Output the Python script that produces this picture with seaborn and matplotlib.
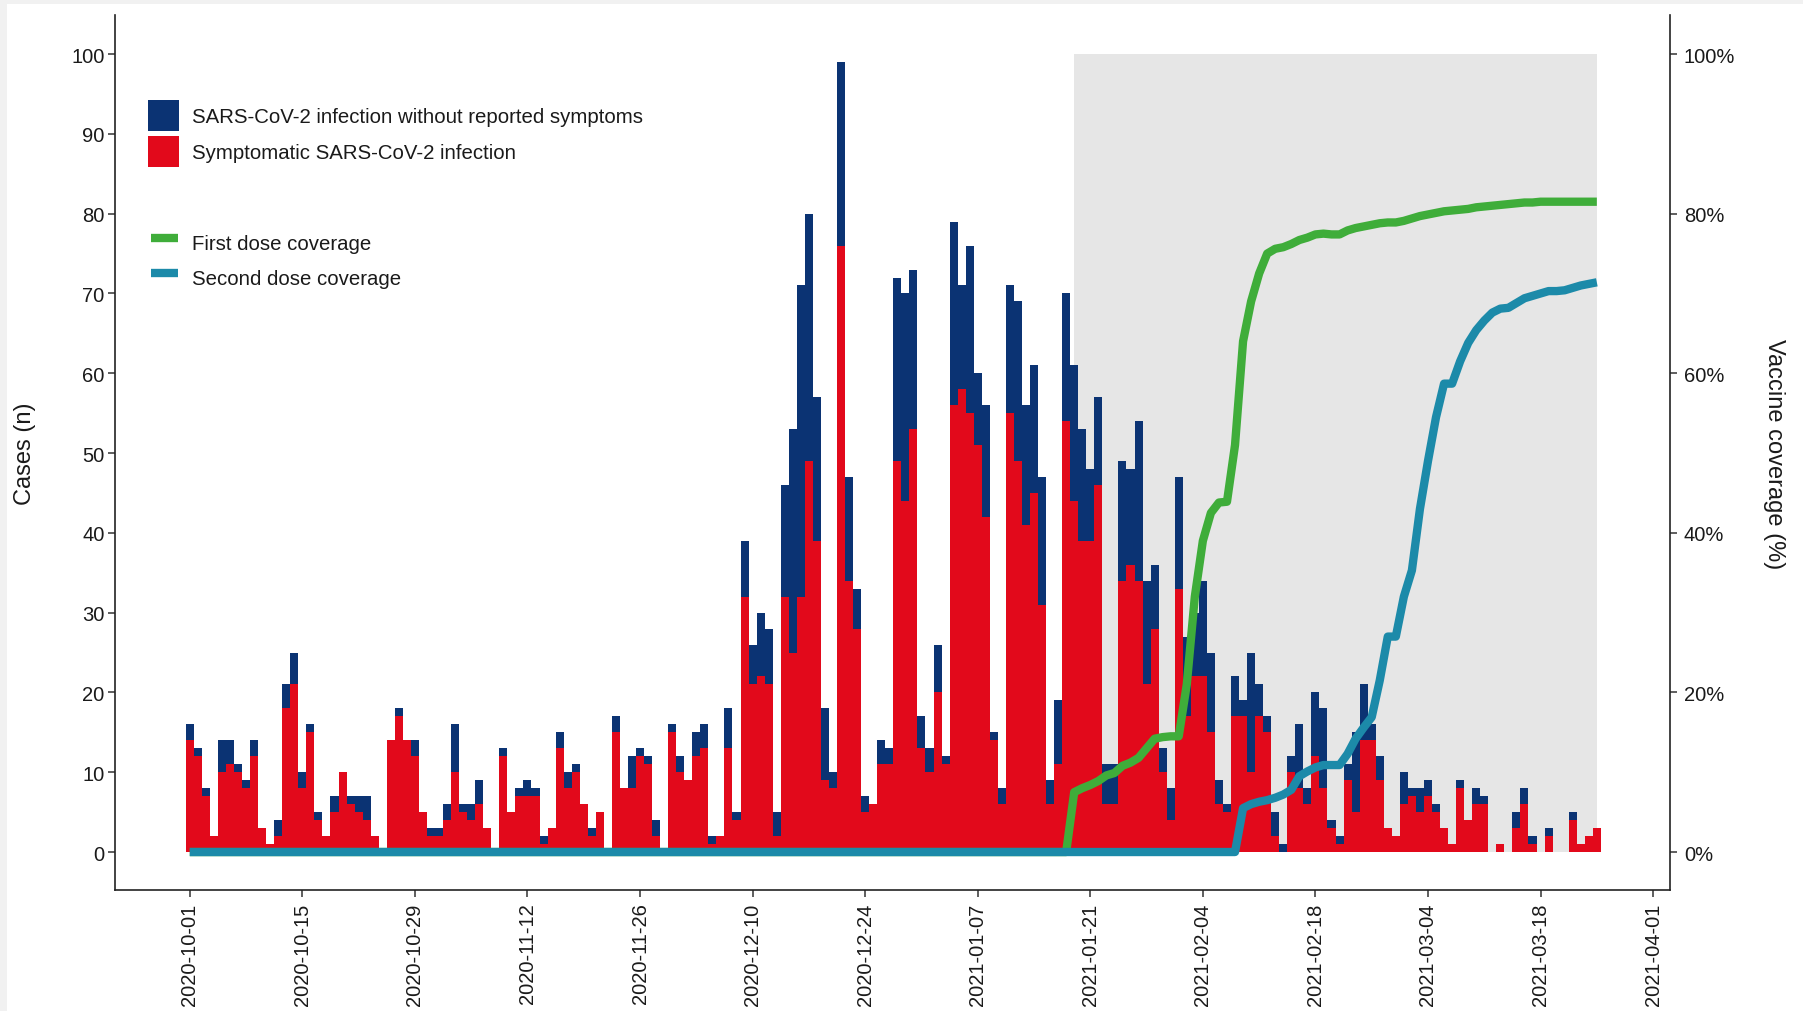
import numpy as np
import pandas as pd
import matplotlib
matplotlib.use("Agg")
import matplotlib.pyplot as plt
import matplotlib.dates as mdates
from matplotlib.patches import Patch, Rectangle
from matplotlib.lines import Line2D
import seaborn as sns

# ---- data -------------------------------------------------------------
first_day = "2020-10-01"

# daily cases (all infections) from 2020-10-01 to 2021-03-25
total_cases = [
    16, 13, 8, 2, 14, 14, 11, 9, 14, 3,
    1, 4, 21, 25, 10, 16, 5, 2, 7, 10,
    7, 7, 7, 2, 0, 14, 18, 14, 14, 5,
    3, 3, 6, 16, 6, 6, 9, 3, 0, 13,
    5, 8, 9, 8, 2, 3, 15, 10, 11, 6,
    3, 5, 0, 17, 8, 12, 13, 12, 4, 0,
    16, 12, 9, 15, 16, 2, 2, 18, 5, 39,
    26, 30, 28, 5, 46, 53, 71, 80, 57, 18,
    10, 99, 47, 33, 7, 6, 14, 13, 72, 70,
    73, 17, 13, 26, 12, 79, 71, 76, 60, 56,
    15, 8, 71, 69, 56, 61, 47, 9, 19, 70,
    61, 53, 48, 57, 11, 11, 49, 48, 54, 34,
    36, 13, 8, 47, 27, 30, 34, 25, 9, 6,
    22, 19, 25, 21, 17, 5, 1, 12, 16, 8,
    20, 18, 4, 2, 11, 15, 21, 16, 12, 3,
    2, 10, 8, 8, 9, 6, 3, 1, 9, 4,
    8, 7, 0, 1, 0, 5, 8, 2, 0, 3,
    0, 0, 5, 1, 2, 3,
]

# daily symptomatic cases over the same days
symptomatic_cases = [
    14, 12, 7, 2, 10, 11, 10, 8, 12, 3,
    1, 2, 18, 21, 8, 15, 4, 2, 5, 10,
    6, 5, 4, 2, 0, 14, 17, 14, 12, 5,
    2, 2, 4, 10, 5, 4, 6, 3, 0, 12,
    5, 7, 7, 7, 1, 3, 13, 8, 10, 6,
    2, 5, 0, 15, 8, 8, 12, 11, 2, 0,
    15, 10, 9, 12, 13, 1, 2, 13, 4, 32,
    21, 22, 21, 2, 32, 25, 32, 49, 39, 9,
    8, 76, 34, 28, 5, 6, 11, 11, 49, 44,
    53, 13, 10, 20, 11, 56, 58, 55, 51, 42,
    14, 6, 55, 49, 41, 45, 31, 6, 11, 54,
    44, 39, 39, 46, 6, 6, 34, 36, 34, 21,
    28, 10, 4, 33, 17, 22, 22, 15, 6, 5,
    17, 17, 10, 17, 15, 2, 0, 10, 8, 6,
    12, 8, 3, 1, 9, 5, 14, 14, 9, 3,
    2, 6, 7, 5, 7, 5, 3, 1, 8, 4,
    6, 6, 0, 1, 0, 3, 6, 1, 0, 2,
    0, 0, 4, 1, 2, 3,
]

# vaccine coverage (%) from 2021-01-18 to 2021-03-25 (zero before)
coverage_first_day = "2021-01-18"
first_dose = [
    0.0, 7.5, 8.0, 8.4, 8.9, 9.6, 9.9, 10.8, 11.2, 11.8,
    13.0, 14.2, 14.4, 14.5, 14.5, 21.0, 32.0, 39.0, 42.5, 43.8,
    43.9, 51.0, 64.0, 69.0, 72.5, 75.0, 75.6, 75.8, 76.2, 76.7,
    77.0, 77.4, 77.5, 77.4, 77.4, 77.9, 78.2, 78.4, 78.6, 78.8,
    78.9, 78.9, 79.1, 79.4, 79.7, 79.9, 80.1, 80.3, 80.4, 80.5,
    80.6, 80.8, 80.9, 81.0, 81.1, 81.2, 81.3, 81.4, 81.4, 81.5,
    81.5, 81.5, 81.5, 81.5, 81.5, 81.5, 81.5,
]
second_dose = [
    0.0, 0.0, 0.0, 0.0, 0.0, 0.0, 0.0, 0.0, 0.0, 0.0,
    0.0, 0.0, 0.0, 0.0, 0.0, 0.0, 0.0, 0.0, 0.0, 0.0,
    0.0, 0.0, 5.5, 6.0, 6.3, 6.5, 6.8, 7.2, 7.8, 9.5,
    10.1, 10.6, 10.9, 10.9, 10.9, 12.3, 14.2, 15.6, 16.9, 21.5,
    27.0, 27.0, 32.0, 35.3, 43.0, 49.0, 54.5, 58.7, 58.7, 61.5,
    63.8, 65.4, 66.6, 67.6, 68.1, 68.2, 68.8, 69.4, 69.7, 70.0,
    70.3, 70.3, 70.4, 70.7, 71.0, 71.2, 71.4,
]

# vaccination period shown as a grey band
band_start = "2021-01-19"
band_end = "2021-03-25"

date_ticks = [
    "2020-10-01", "2020-10-15", "2020-10-29", "2020-11-12", "2020-11-26",
    "2020-12-10", "2020-12-24", "2021-01-07", "2021-01-21", "2021-02-04",
    "2021-02-18", "2021-03-04", "2021-03-18", "2021-04-01",
]
case_ticks = list(range(0, 101, 10))
coverage_ticks = [0, 20, 40, 60, 80, 100]

ASYM = "SARS-CoV-2 infection without reported symptoms"
SYMP = "Symptomatic SARS-CoV-2 infection"
FIRST = "First dose coverage"
SECOND = "Second dose coverage"

# ---- style ------------------------------------------------------------
NAVY = "#0b3373"
RED = "#e2091b"
GREEN = "#3fad3a"
TEAL = "#1c8aa9"
BAND = "#e6e6e6"
INK = "#1a1a1a"

sns.set_theme(style="ticks")
plt.rcParams["font.family"] = ["Liberation Sans", "DejaVu Sans"]

W_PX, H_PX = 1803, 1012
fig = plt.figure(figsize=(W_PX / 100, H_PX / 100), dpi=100, facecolor="#f1f1f1")
fig.add_artist(Rectangle((7 / W_PX, 0), 1, 1 - 5 / H_PX, transform=fig.transFigure,
                         facecolor="white", edgecolor="none", zorder=-10))

left, right, bottom, top = 115, 1670, 891, 16
ax = fig.add_axes([left / W_PX, 1 - bottom / H_PX,
                   (right - left) / W_PX, (bottom - top) / H_PX])

# ---- bars -------------------------------------------------------------
days = pd.date_range(first_day, periods=len(total_cases), freq="D")
xd = mdates.date2num(days)
tot = np.array(total_cases)
sym = np.array(symptomatic_cases)
asym = tot - sym
n = len(xd)
cases = pd.DataFrame({
    "day": np.concatenate([xd, xd]),
    "n": np.concatenate([asym, sym]),
    "type": [ASYM] * n + [SYMP] * n,
})

x0 = mdates.date2num(pd.Timestamp(first_day))
ax.fill_between([mdates.date2num(pd.Timestamp(band_start)),
                 mdates.date2num(pd.Timestamp(band_end))], 0, 100,
                color=BAND, linewidth=0, zorder=0.5)

sns.histplot(data=cases, x="day", weights="n", hue="type",
             hue_order=[ASYM, SYMP], multiple="stack", discrete=True,
             palette={ASYM: NAVY, SYMP: RED}, alpha=1, linewidth=0,
             antialiased=False, legend=False, ax=ax, zorder=1)

# ---- coverage lines ---------------------------------------------------
ax2 = ax.twinx()
cov_days = pd.date_range(coverage_first_day, periods=len(first_dose), freq="D")
pre = pd.date_range(first_day, cov_days[0] - pd.Timedelta(days=1), freq="D")
cov_x = mdates.date2num(pre.append(cov_days))
first_series = [0.0] * len(pre) + first_dose
second_series = [0.0] * len(pre) + second_dose
sns.lineplot(x=cov_x, y=first_series, color=GREEN, linewidth=6, estimator=None,
             sort=False, ax=ax2, solid_joinstyle="round", solid_capstyle="butt")
sns.lineplot(x=cov_x, y=second_series, color=TEAL, linewidth=6, estimator=None,
             sort=False, ax=ax2, solid_joinstyle="round", solid_capstyle="butt")

# ---- axes -------------------------------------------------------------
xlim = (x0 - 9.3, x0 + 184.1)
ylim = (-4.76, 104.9)
for a in (ax, ax2):
    a.set_xlim(*xlim)
    a.set_ylim(*ylim)
    a.set_xlabel("")
    a.set_ylabel("")

ax.set_xticks(mdates.date2num(pd.to_datetime(date_ticks)))
ax.set_xticklabels(date_ticks, rotation=90, fontsize=14.5, color=INK)
ax.set_yticks(case_ticks)
ax.set_yticklabels([str(v) for v in case_ticks], fontsize=14.5, color=INK)
ax2.set_yticks(coverage_ticks)
ax2.set_yticklabels([f"{v}%" for v in coverage_ticks], fontsize=14.5, color=INK)

ax.spines["top"].set_visible(False)
ax.spines["right"].set_visible(False)
for s in ("top", "left", "bottom"):
    ax2.spines[s].set_visible(False)
for s in (ax.spines["left"], ax.spines["bottom"], ax2.spines["right"]):
    s.set_color("#222222")
    s.set_linewidth(1.2)

ax.tick_params(axis="x", length=5, width=1.1, color="#333333", pad=4)
ax.tick_params(axis="y", length=5, width=1.1, color="#333333", pad=2.5)
ax2.tick_params(axis="y", length=5, width=1.1, color="#333333", pad=5)
ax.grid(False)
ax2.grid(False)

fig.text(25 / W_PX, 1 - 454 / H_PX, "Cases (n)", rotation=90, ha="center",
         va="center", fontsize=17, color=INK)
fig.text(1774 / W_PX, 1 - 454 / H_PX, "Vaccine coverage (%)", rotation=270,
         ha="center", va="center", fontsize=17, color=INK)

# ---- legends ----------------------------------------------------------
fs = 14.7
leg1 = ax2.legend(
    handles=[Patch(facecolor=NAVY, edgecolor="none"), Patch(facecolor=RED, edgecolor="none")],
    labels=[ASYM, SYMP], loc="upper left",
    bbox_to_anchor=(148 / W_PX, 1 - 101 / H_PX), bbox_transform=fig.transFigure,
    frameon=False, borderpad=0, borderaxespad=0, handlelength=1.52,
    handleheight=1.96, handletextpad=0.64, labelspacing=0.22, fontsize=fs,
    labelcolor=INK)
ax2.add_artist(leg1)
ax2.legend(
    handles=[Line2D([0], [0], color=GREEN, lw=6, solid_capstyle="butt"),
             Line2D([0], [0], color=TEAL, lw=6, solid_capstyle="butt")],
    labels=[FIRST, SECOND], loc="upper left",
    bbox_to_anchor=(150.6 / W_PX, 1 - 227.5 / H_PX), bbox_transform=fig.transFigure,
    frameon=False, borderpad=0, borderaxespad=0, handlelength=1.35,
    handleheight=1.96, handletextpad=0.68, labelspacing=0.22, fontsize=fs,
    labelcolor=INK)

fig.savefig("out.png", dpi=100, facecolor=fig.get_facecolor())
